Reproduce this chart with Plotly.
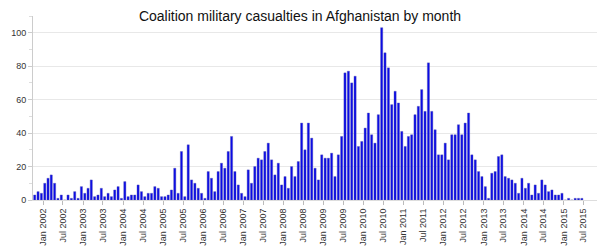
import pandas as pd
import plotly.graph_objects as go

# Monthly coalition military casualties, Oct 2001 .. Jun 2015
start_month = "2001-10-01"
casualties = [
    3, 5, 4, 10, 13, 15, 10, 1, 3, 0, 3, 1, 5, 1, 8, 4, 7, 12, 2, 3, 7, 2, 4, 2, 6, 8, 1, 11, 2, 3, 3, 9, 5, 2, 4,
    4, 8, 7, 2, 2, 3, 6, 19, 4, 29, 2, 33, 12, 10, 7, 4, 1, 17, 13, 5, 17, 22, 19, 29, 38, 17, 9, 4, 2, 18, 10, 20, 25, 24, 29,
    34, 24, 15, 22, 9, 14, 7, 20, 14, 23, 46, 30, 46, 37, 19, 12, 27, 25, 25, 28, 14, 27, 38, 76, 77, 70, 74, 32, 35, 43, 52, 39, 34, 51, 103,
    88, 79, 57, 65, 58, 41, 32, 38, 39, 51, 56, 66, 53, 82, 53, 42, 27, 27, 34, 24, 39, 39, 45, 39, 46, 52, 27, 24, 17, 14, 8, 1, 16, 17, 26,
    27, 14, 13, 12, 10, 4, 13, 7, 10, 3, 9, 4, 12, 9, 5, 6, 3, 3, 4, 0, 1, 0, 1, 1, 1,
]
months = pd.date_range(start_month, periods=len(casualties), freq="MS")

title_text = "Coalition military casualties in Afghanistan by month"
x_range = ["2001-10-01", "2015-11-01"]
y_range = [0, 110]
y_ticks = [0, 20, 40, 60, 80, 100]

fig = go.Figure(
    go.Bar(
        x=months,
        y=casualties,
        xperiod="M1",
        xperiodalignment="middle",
        marker=dict(color="#0a0ae6", line=dict(color="#5a5ab4", width=0.4)),
    )
)

fig.update_layout(
    width=600,
    height=250,
    margin=dict(l=33, r=3, t=16, b=50),
    paper_bgcolor="white",
    plot_bgcolor="white",
    font=dict(family="Liberation Sans, Arial, sans-serif", size=9, color="#333"),
    title=dict(
        text=title_text,
        x=0.5,
        xanchor="center",
        y=0.935,
        yanchor="middle",
        font=dict(size=14, color="#111"),
    ),
    bargap=0.33,
    showlegend=False,
)

fig.update_xaxes(
    type="date",
    range=x_range,
    tick0="2002-01-01",
    dtick="M6",
    tickformat="%b %Y",
    tickangle=-90,
    ticks="outside",
    ticklen=4,
    tickcolor="#bbb",
    showgrid=False,
    showline=True,
    linecolor="#ddd",
    zeroline=False,
    tickfont=dict(size=9, color="#333"),
)

fig.update_yaxes(
    range=y_range,
    tickvals=y_ticks,
    ticks="outside",
    ticklen=4,
    tickcolor="#ccc",
    minor=dict(dtick=10, ticks="outside", ticklen=3, tickcolor="#ddd", showgrid=False),
    showgrid=True,
    gridcolor="#e8e8e8",
    gridwidth=1,
    showline=True,
    linecolor="#ccc",
    zeroline=False,
    tickfont=dict(size=9, color="#333"),
)

fig.write_html("out.html")
